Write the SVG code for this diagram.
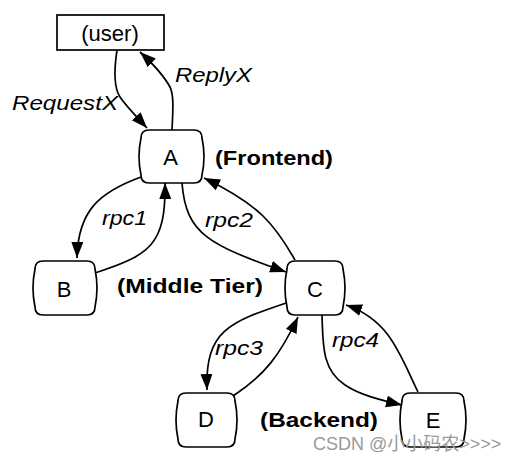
<svg xmlns="http://www.w3.org/2000/svg" width="526" height="463" viewBox="0 0 526 463">
<style>
.box{fill:#fff;stroke:#000;stroke-width:1.7}
.nl{font-family:"Liberation Sans",Arial,sans-serif;font-size:22px;fill:#000;text-anchor:middle}
.it{font-family:"Liberation Sans",Arial,sans-serif;font-size:21px;font-style:italic;fill:#000}
.bd{font-family:"Liberation Sans",Arial,sans-serif;font-size:21px;font-weight:bold;fill:#000}
.wm{font-family:"Liberation Sans","Noto Sans CJK SC",sans-serif;font-size:18px;fill:#9a9a9a}
.edge{fill:none;stroke:#000;stroke-width:1.7}
</style>
<defs>
<marker id="ah" markerUnits="userSpaceOnUse" markerWidth="18" markerHeight="14" refX="16" refY="6" orient="auto">
<path d="M0,0 L16,6 L0,12 Z" fill="#000"/>
</marker>
</defs>
<g id="edges">
<path class="edge" marker-end="url(#ah)" d="M117,50 C114,70 114,88 120,97 C126,106 136,116 147,128"/>
<path class="edge" marker-end="url(#ah)" d="M172,130 C173,110 174,95 170,87 C164,76 152,63 140,52"/>
<path class="edge" marker-end="url(#ah)" d="M141,177 C100,192 78,210 77,258"/>
<path class="edge" marker-end="url(#ah)" d="M95,273 C150,255 166,245 165,183"/>
<path class="edge" marker-end="url(#ah)" d="M182,183 C186,235 210,245 286,272"/>
<path class="edge" marker-end="url(#ah)" d="M295,260 C275,225 260,205 204,178"/>
<path class="edge" marker-end="url(#ah)" d="M286,303 C230,322 205,330 207,390"/>
<path class="edge" marker-end="url(#ah)" d="M233,396 C265,375 280,355 298,317"/>
<path class="edge" marker-end="url(#ah)" d="M322,315 C323,345 322,370 345,385 C360,395 380,400 402,405"/>
<path class="edge" marker-end="url(#ah)" d="M418,392 C400,355 390,320 346,305"/>
</g>
<g id="user">
<rect class="box" x="57" y="15" width="107" height="35"/>
<text class="nl" x="110" y="41" font-size="21">(user)</text>
</g>
<g id="A">
<path class="box" d="M149,130 H194 Q202,130 202,138 Q206,156.5 202,175 Q202,183 194,183 H149 Q141,183 141,175 Q137,156.5 141,138 Q141,130 149,130 Z"/>
<text class="nl" x="170.5" y="165">A</text>
</g>
<g id="B">
<path class="box" d="M43,261 H87 Q95,261 95,269 Q99,288 95,307 Q95,315 87,315 H43 Q35,315 35,307 Q31,288 35,269 Q35,261 43,261 Z"/>
<text class="nl" x="64" y="297">B</text>
</g>
<g id="C">
<path class="box" d="M295,261 H335 Q343,261 343,269 Q347,288 343,307 Q343,315 335,315 H295 Q287,315 287,307 Q283,288 287,269 Q287,261 295,261 Z"/>
<text class="nl" x="315" y="297">C</text>
</g>
<g id="D">
<path class="box" d="M186,393 H227 Q235,393 235,401 Q239,420 235,439 Q235,447 227,447 H186 Q178,447 178,439 Q174,420 178,401 Q178,393 186,393 Z"/>
<text class="nl" x="206" y="427">D</text>
</g>
<g id="E">
<path class="box" d="M410,393 H456 Q464,393 464,401 Q468,420 464,439 Q464,447 456,447 H410 Q402,447 402,439 Q398,420 402,401 Q402,393 410,393 Z"/>
<text class="nl" x="433" y="428">E</text>
</g>
<g id="labels">
<text class="it" x="12" y="110" textLength="106" lengthAdjust="spacingAndGlyphs">RequestX</text>
<text class="it" x="175" y="82" textLength="77" lengthAdjust="spacingAndGlyphs">ReplyX</text>
<text class="it" x="102" y="225" textLength="45" lengthAdjust="spacingAndGlyphs">rpc1</text>
<text class="it" x="205" y="227" textLength="48" lengthAdjust="spacingAndGlyphs">rpc2</text>
<text class="it" x="215" y="355" textLength="48" lengthAdjust="spacingAndGlyphs">rpc3</text>
<text class="it" x="332" y="347" textLength="47" lengthAdjust="spacingAndGlyphs">rpc4</text>
<text class="bd" x="215" y="165" textLength="118" lengthAdjust="spacingAndGlyphs">(Frontend)</text>
<text class="bd" x="117" y="293" textLength="146" lengthAdjust="spacingAndGlyphs">(Middle Tier)</text>
<text class="bd" x="260" y="427" textLength="118" lengthAdjust="spacingAndGlyphs">(Backend)</text>
<text class="wm" x="313" y="450">CSDN @小小码农&gt;&gt;&gt;&gt;</text>
</g>
</svg>
